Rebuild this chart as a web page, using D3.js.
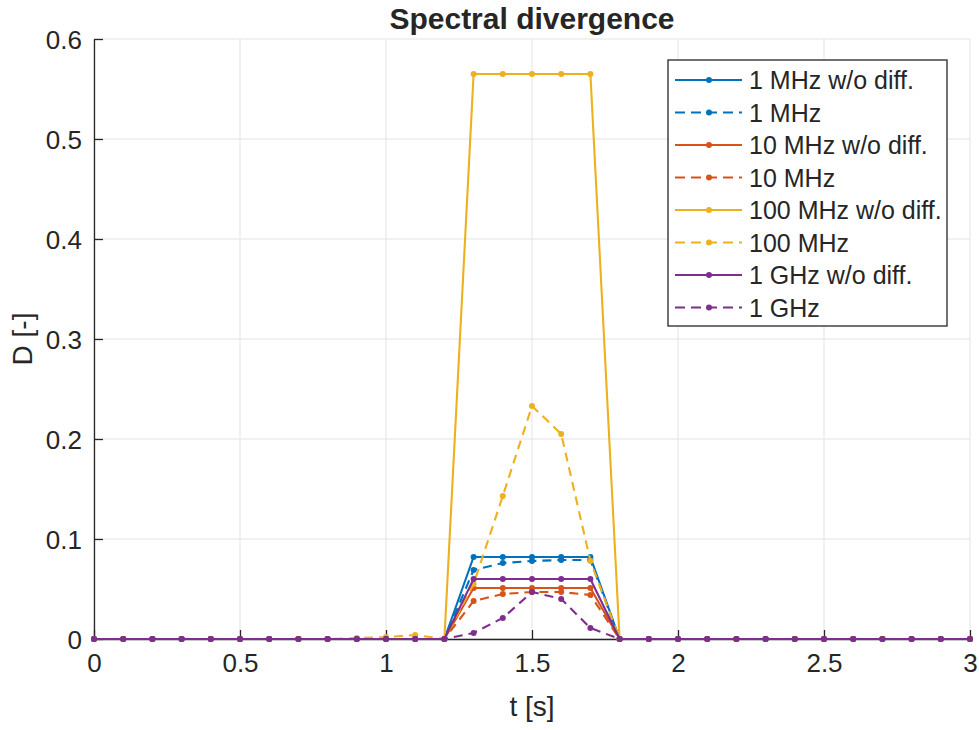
<!DOCTYPE html>
<html>
<head>
<meta charset="utf-8">
<script src="https://cdn.jsdelivr.net/npm/d3@7"></script>
<style>
  body { margin: 0; background: #fff; }
  svg text { font-family: "Liberation Sans", Arial, Helvetica, sans-serif; fill: #262626; }
</style>
</head>
<body>
<div id="chart"></div>
<script>
// time axis [s]
const times = [0, 0.1, 0.2, 0.3, 0.4, 0.5, 0.6, 0.7, 0.8, 0.9, 1.0, 1.1, 1.2, 1.3, 1.4, 1.5,
               1.6, 1.7, 1.8, 1.9, 2.0, 2.1, 2.2, 2.3, 2.4, 2.5, 2.6, 2.7, 2.8, 2.9, 3.0];

const mhz1NoDiff   = [0,0,0,0,0,0,0,0,0,0,0,0,0, 0.082,0.082,0.082,0.082,0.082, 0,0,0,0,0,0,0,0,0,0,0,0,0];
const mhz1         = [0,0,0,0,0,0,0,0,0,0,0,0,0, 0.069,0.076,0.078,0.079,0.079, 0,0,0,0,0,0,0,0,0,0,0,0,0];
const mhz10NoDiff  = [0,0,0,0,0,0,0,0,0,0,0,0,0, 0.051,0.051,0.051,0.051,0.051, 0,0,0,0,0,0,0,0,0,0,0,0,0];
const mhz10        = [0,0,0,0,0,0,0,0,0,0,0,0,0, 0.038,0.045,0.047,0.047,0.044, 0,0,0,0,0,0,0,0,0,0,0,0,0];
const mhz100NoDiff = [0,0,0,0,0,0,0,0,0,0,0,0,0, 0.565,0.565,0.565,0.565,0.565, 0,0,0,0,0,0,0,0,0,0,0,0,0];
const mhz100       = [0,0,0,0,0,0,0,0,0,0.001,0.002,0.004,0, 0.055,0.143,0.233,0.205,0.078, 0,0,0,0,0,0,0,0,0,0,0,0,0];
const ghz1NoDiff   = [0,0,0,0,0,0,0,0,0,0,0,0,0, 0.060,0.060,0.060,0.060,0.060, 0,0,0,0,0,0,0,0,0,0,0,0,0];
const ghz1         = [0,0,0,0,0,0,0,0,0,0,0,0,0, 0.006,0.021,0.047,0.040,0.011, 0,0,0,0,0,0,0,0,0,0,0,0,0];

const seriesNames = ["1 MHz w/o diff.", "1 MHz", "10 MHz w/o diff.", "10 MHz",
                     "100 MHz w/o diff.", "100 MHz", "1 GHz w/o diff.", "1 GHz"];
const xTicks = [0, 0.5, 1, 1.5, 2, 2.5, 3];
const xTickLabels = ["0", "0.5", "1", "1.5", "2", "2.5", "3"];
const yTicks = [0, 0.1, 0.2, 0.3, 0.4, 0.5, 0.6];
const yTickLabels = ["0", "0.1", "0.2", "0.3", "0.4", "0.5", "0.6"];

const colors = ["#0072BD", "#0072BD", "#D95319", "#D95319", "#EDB120", "#EDB120", "#7E2F8E", "#7E2F8E"];
const dashed = [false, true, false, true, false, true, false, true];
const values = [mhz1NoDiff, mhz1, mhz10NoDiff, mhz10, mhz100NoDiff, mhz100, ghz1NoDiff, ghz1];

const series = seriesNames.map((name, i) => ({
  name: name,
  color: colors[i],
  dashed: dashed[i],
  points: times.map((t, j) => ({t: t, v: values[i][j]}))
}));

var W = 979, H = 730;
var margin = {top: 39, right: 9, bottom: 91, left: 94};
var width = W - margin.left - margin.right;
var height = H - margin.top - margin.bottom;

const svg = d3.select("#chart").append("svg")
  .attr("width", W)
  .attr("height", H);

const g = svg.append("g")
  .attr("transform", "translate(" + margin.left + "," + margin.top + ")");

var x = d3.scaleLinear().domain([0, 3]).range([0, width]);
var y = d3.scaleLinear().domain([0, 0.6]).range([height, 0]);

// grid
g.append("g").selectAll("line").data(xTicks).enter().append("line")
  .attr("x1", d => x(d)).attr("x2", d => x(d))
  .attr("y1", 0).attr("y2", height)
  .attr("stroke", "#e3e3e3").attr("stroke-width", 1);
g.append("g").selectAll("line").data(yTicks).enter().append("line")
  .attr("x1", 0).attr("x2", width)
  .attr("y1", d => y(d)).attr("y2", d => y(d))
  .attr("stroke", "#e3e3e3").attr("stroke-width", 1);

// axes (ticks inward)
const xAxis = g.append("g")
  .attr("transform", "translate(0," + height + ")")
  .call(d3.axisBottom(x).tickValues(xTicks)
    .tickFormat((d, i) => xTickLabels[i])
    .tickSizeInner(-9).tickSizeOuter(0).tickPadding(13));
const yAxis = g.append("g")
  .call(d3.axisLeft(y).tickValues(yTicks)
    .tickFormat((d, i) => yTickLabels[i])
    .tickSizeInner(-9).tickSizeOuter(0).tickPadding(12));

[xAxis, yAxis].forEach(a => {
  a.select(".domain").attr("stroke", "#262626").attr("stroke-width", 1.3);
  a.selectAll(".tick line").attr("stroke", "#262626").attr("stroke-width", 1.3);
  a.selectAll(".tick text").style("font-size", "26px").attr("fill", "#262626");
});
xAxis.selectAll(".tick text").attr("dy", "0.75em");
yAxis.selectAll(".tick text").attr("dy", "0.36em");

// lines
var line = d3.line().x(d => x(d.t)).y(d => y(d.v));

const sg = g.selectAll(".series").data(series).enter().append("g").attr("class", "series");
sg.append("path")
  .attr("d", d => line(d.points))
  .attr("fill", "none")
  .attr("stroke", d => d.color)
  .attr("stroke-width", 2.1)
  .attr("stroke-dasharray", d => d.dashed ? "9,6" : null);
sg.selectAll("circle").data(d => d.points.map(p => ({p: p, c: d.color}))).enter()
  .append("circle")
  .attr("cx", d => x(d.p.t))
  .attr("cy", d => y(d.p.v))
  .attr("r", 3)
  .attr("fill", d => d.c);

// title + labels
svg.append("text")
  .attr("x", margin.left + width / 2).attr("y", 29)
  .attr("text-anchor", "middle")
  .style("font-size", "30px").style("font-weight", "bold")
  .attr("fill", "#000")
  .text("Spectral divergence");

svg.append("text")
  .attr("x", margin.left + width / 2).attr("y", 716)
  .attr("text-anchor", "middle")
  .style("font-size", "28px")
  .text("t [s]");

svg.append("text")
  .attr("transform", "translate(32," + (margin.top + height / 2) + ") rotate(-90)")
  .attr("text-anchor", "middle")
  .style("font-size", "28px")
  .text("D [-]");

// legend
const lg = svg.append("g").attr("transform", "translate(668,60)");
lg.append("rect")
  .attr("width", 279).attr("height", 266)
  .attr("fill", "#fff").attr("stroke", "#262626").attr("stroke-width", 1.3);
const items = lg.selectAll(".item").data(series).enter().append("g")
  .attr("transform", (d, i) => "translate(0," + (20 + i * 32.5) + ")");
items.append("line")
  .attr("x1", 7).attr("x2", 74)
  .attr("stroke", d => d.color).attr("stroke-width", 2.1)
  .attr("stroke-dasharray", d => d.dashed ? "10,6" : null);
items.append("circle").attr("cx", 41).attr("r", 3).attr("fill", d => d.color);
items.append("text")
  .attr("x", 81).attr("dy", "0.36em")
  .style("font-size", "25px").attr("fill", "#000")
  .text(d => d.name);
</script>
</body>
</html>
